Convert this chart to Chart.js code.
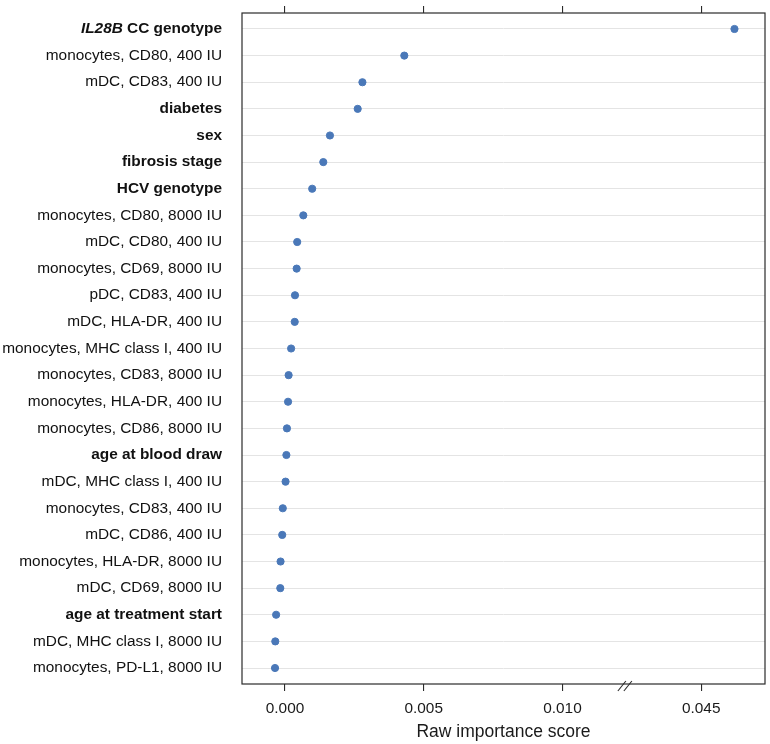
<!DOCTYPE html>
<html>
<head>
<meta charset="utf-8">
<script src="https://cdn.jsdelivr.net/npm/chart.js@4"></script>
<style>
  html, body { margin: 0; padding: 0; background: #fff; }
  #wrap { width: 770px; height: 744px; }
</style>
</head>
<body>
<div id="wrap"><canvas id="importanceChart" width="770" height="744"></canvas></div>
<script>
// variables, top to bottom
const features = [
    'IL28B CC genotype',
    'monocytes, CD80, 400 IU',
    'mDC, CD83, 400 IU',
    'diabetes',
    'sex',
    'fibrosis stage',
    'HCV genotype',
    'monocytes, CD80, 8000 IU',
    'mDC, CD80, 400 IU',
    'monocytes, CD69, 8000 IU',
    'pDC, CD83, 400 IU',
    'mDC, HLA-DR, 400 IU',
    'monocytes, MHC class I, 400 IU',
    'monocytes, CD83, 8000 IU',
    'monocytes, HLA-DR, 400 IU',
    'monocytes, CD86, 8000 IU',
    'age at blood draw',
    'mDC, MHC class I, 400 IU',
    'monocytes, CD83, 400 IU',
    'mDC, CD86, 400 IU',
    'monocytes, HLA-DR, 8000 IU',
    'mDC, CD69, 8000 IU',
    'age at treatment start',
    'mDC, MHC class I, 8000 IU',
    'monocytes, PD-L1, 8000 IU'
];

const importance = [
    0.0462, 0.0043, 0.00279, 0.00262, 0.00162, 0.00138, 0.00098,
    0.00066, 0.00044, 0.00042, 0.00036, 0.00035, 0.00022, 0.00013,
    0.00011, 0.00007, 0.00005, 0.00002, -0.00008, -0.0001, -0.00016,
    -0.00017, -0.00032, -0.00035, -0.00036
];

const boldFeatures = ['IL28B CC genotype', 'diabetes', 'sex', 'fibrosis stage',
    'HCV genotype', 'age at blood draw', 'age at treatment start'];

// x axis is broken between ~0.0122 and ~0.0422
const tickValues = [0, 0.005, 0.010, 0.045];
const tickLabels = ['0.000', '0.005', '0.010', '0.045'];
const BREAK_AT = 0.01225;
const BREAK_SHIFT = 0.030;

function toAxis(v) {
    return v > BREAK_AT ? v - BREAK_SHIFT : v;
}

const FONT = "'Liberation Sans', Arial, Helvetica, sans-serif";
const LABEL_SIZE = 15.4;
const axisTicks = tickValues.map(toAxis);

function setXTicks(scale) {
    scale.ticks = axisTicks.map(v => ({ value: v }));
}

const frameAndBreak = {
    id: 'frameAndBreak',
    afterDraw(chart) {
        const ctx = chart.ctx;
        const a = chart.chartArea;
        ctx.save();
        ctx.strokeStyle = '#2b2b2b';
        ctx.lineWidth = 1.2;
        ctx.strokeRect(a.left, a.top, a.right - a.left, a.bottom - a.top);

        // break mark on the bottom axis
        const bx = chart.scales.x.getPixelForValue(BREAK_AT);
        ctx.lineWidth = 1.1;
        [-3, 3].forEach(dx => {
            ctx.beginPath();
            ctx.moveTo(bx + dx - 4, a.bottom + 7);
            ctx.lineTo(bx + dx + 4, a.bottom - 3);
            ctx.stroke();
        });

        // first label: italic gene name
        const y = chart.scales.y.getPixelForValue(0);
        const right = a.left - 20;
        ctx.fillStyle = '#111';
        ctx.textBaseline = 'middle';
        ctx.textAlign = 'right';
        ctx.font = 'bold ' + LABEL_SIZE + 'px ' + FONT;
        const rest = ' CC genotype';
        ctx.fillText(rest, right, y);
        const w = ctx.measureText(rest).width;
        ctx.font = 'italic bold ' + LABEL_SIZE + 'px ' + FONT;
        ctx.fillText('IL28B', right - w, y);
        ctx.restore();
    }
};

new Chart(document.getElementById('importanceChart'), {
    type: 'scatter',
    data: {
        datasets: [{
            data: importance.map((v, i) => ({ x: toAxis(v), y: i })),
            backgroundColor: '#4a78b8',
            borderColor: '#4a78b8',
            pointRadius: 3.6,
            pointHoverRadius: 3.6,
            showLine: false
        }]
    },
    options: {
        responsive: false,
        animation: false,
        layout: { padding: { left: 0, right: 5, top: 0, bottom: 0 } },
        plugins: {
            legend: { display: false },
            tooltip: { enabled: false }
        },
        scales: {
            x: {
                type: 'linear',
                position: 'bottom',
                min: -0.00155,
                max: 0.0173,
                afterBuildTicks: setXTicks,
                afterFit: s => { s.height = 60; },
                border: { display: false },
                grid: {
                    drawOnChartArea: false,
                    drawTicks: true,
                    tickLength: 7,
                    color: '#2b2b2b',
                    lineWidth: 1.1
                },
                ticks: {
                    padding: 9,
                    maxRotation: 0,
                    color: '#1a1a1a',
                    font: { family: FONT, size: 15.4 },
                    callback: v => tickLabels[axisTicks.indexOf(v)] ?? ''
                },
                title: {
                    display: true,
                    text: 'Raw importance score',
                    color: '#1a1a1a',
                    font: { family: FONT, size: 17.5 },
                    padding: { top: 0, bottom: 1 }
                }
            },
            x2: {
                type: 'linear',
                position: 'top',
                min: -0.00155,
                max: 0.0173,
                afterBuildTicks: setXTicks,
                afterFit: s => { s.height = 13; },
                border: { display: false },
                grid: {
                    drawOnChartArea: false,
                    drawTicks: true,
                    tickLength: 7,
                    color: '#2b2b2b',
                    lineWidth: 1.1
                },
                ticks: { display: false }
            },
            y: {
                type: 'linear',
                reverse: true,
                min: -0.6,
                max: features.length - 0.4,
                afterBuildTicks: s => { s.ticks = features.map((_, i) => ({ value: i })); },
                afterFit: s => {
                    s.width = 242;
                    s.paddingTop = 0;
                    s.paddingBottom = 0;
                },
                border: { display: false },
                grid: {
                    drawTicks: false,
                    color: '#e4e4e4',
                    lineWidth: 1
                },
                ticks: {
                    padding: 20,
                    autoSkip: false,
                    color: ctx => ctx.index === 0 ? 'rgba(0,0,0,0)' : '#111',
                    font: ctx => ({
                        family: FONT,
                        size: LABEL_SIZE,
                        weight: boldFeatures.includes(features[ctx.index]) ? 'bold' : 'normal'
                    }),
                    callback: v => features[v] ?? ''
                }
            }
        }
    },
    plugins: [frameAndBreak]
});
</script>
</body>
</html>
